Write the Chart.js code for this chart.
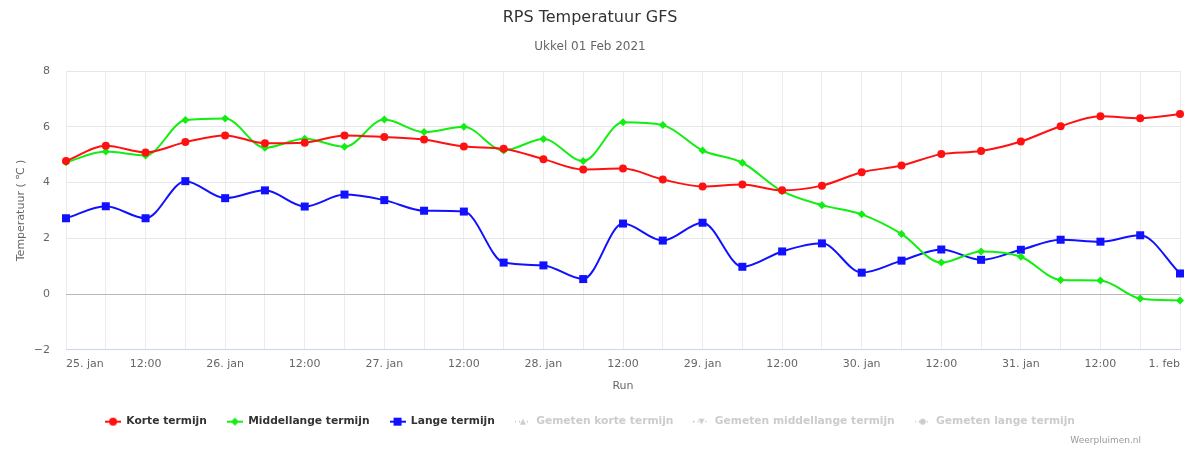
<!DOCTYPE html>
<html>
<head>
<meta charset="utf-8">
<title>RPS Temperatuur GFS</title>
<script src="https://cdn.jsdelivr.net/npm/chart.js@4/dist/chart.umd.min.js"></script>
<style>
    body { margin: 0; background: #ffffff; }
    #wrap { width: 1190px; height: 450px; }
</style>
</head>
<body>
<div id="wrap"><canvas id="rpsChart" width="1190" height="450"></canvas></div>
<script>
// Runs every 6 hours, labels only on the 12h ticks
const tickLabels = ['25. jan', '12:00', '26. jan', '12:00', '27. jan', '12:00', '28. jan', '12:00',
    '29. jan', '12:00', '30. jan', '12:00', '31. jan', '12:00', '1. feb'];

const korteTermijn = [4.77, 5.32, 5.08, 5.45, 5.69, 5.41, 5.43, 5.69, 5.63, 5.54, 5.29, 5.21, 4.84, 4.47,
    4.50, 4.11, 3.86, 3.93, 3.72, 3.89, 4.37, 4.61, 5.02, 5.13, 5.47, 6.02, 6.38, 6.31, 6.46];
const middellangeTermijn = [4.73, 5.11, 4.97, 6.24, 6.30, 5.25, 5.57, 5.28, 6.26, 5.81, 6.00, 5.15, 5.56, 4.77,
    6.16, 6.06, 5.15, 4.71, 3.69, 3.19, 2.86, 2.16, 1.13, 1.53, 1.34, 0.51, 0.49, -0.16, -0.23];
const langeTermijn = [2.72, 3.15, 2.72, 4.05, 3.44, 3.72, 3.14, 3.57, 3.37, 2.99, 2.96, 1.13, 1.03, 0.54,
    2.53, 1.92, 2.56, 0.98, 1.53, 1.82, 0.77, 1.20, 1.60, 1.23, 1.59, 1.95, 1.88, 2.11, 0.74];

// measured series are switched off in the original, no values shown
const gemetenKorte = [];
const gemetenMiddellange = [];
const gemetenLange = [];

const yTicks = [-2, 0, 2, 4, 6, 8];

// 29 categories: tick label, blank 6h slot, tick label, ...
const categories = tickLabels.flatMap((t, i) => i < tickLabels.length - 1 ? [t, ''] : [t]);

const RED = '#ff1111';
const GREEN = '#11ee11';
const BLUE = '#1111ff';
const GREY = '#cccccc';

// little line + marker picture for the legend, like highcharts does
function legendIcon(color, marker, dotted) {
    const c = document.createElement('canvas');
    c.width = 16;
    c.height = 10;
    const g = c.getContext('2d');
    g.strokeStyle = color;
    g.fillStyle = color;
    g.lineWidth = 2;
    if (dotted) g.setLineDash([1, 3]);
    g.beginPath();
    g.moveTo(0, 5);
    g.lineTo(16, 5);
    g.stroke();
    g.setLineDash([]);
    g.beginPath();
    if (marker === 'circle') {
        g.arc(8, 5, dotted ? 3 : 4, 0, Math.PI * 2);
    } else if (marker === 'square') {
        g.rect(4, 1, 8, 8);
    } else if (marker === 'diamond') {
        g.moveTo(8, 1); g.lineTo(12, 5); g.lineTo(8, 9); g.lineTo(4, 5); g.closePath();
    } else if (marker === 'triangle') {
        g.moveTo(8, 2); g.lineTo(11, 8); g.lineTo(5, 8); g.closePath();
    } else if (marker === 'triangle-down') {
        g.moveTo(5, 2); g.lineTo(11, 2); g.lineTo(8, 8); g.closePath();
    }
    g.fill();
    return c;
}

const icons = [
    legendIcon(RED, 'circle', false),
    legendIcon(GREEN, 'diamond', false),
    legendIcon(BLUE, 'square', false),
    legendIcon(GREY, 'triangle', true),
    legendIcon(GREY, 'triangle-down', true),
    legendIcon(GREY, 'circle', true)
];

function series(label, data, color, pointStyle, radius) {
    return {
        label: label,
        data: data,
        borderColor: color,
        backgroundColor: color,
        borderWidth: 2,
        pointStyle: pointStyle,
        pointRadius: radius,
        pointHoverRadius: radius,
        pointBorderWidth: 0,
        cubicInterpolationMode: 'monotone',
        fill: false,
        clip: false
    };
}

const creditPlugin = {
    id: 'credit',
    afterDraw(chart) {
        const ctx = chart.ctx;
        ctx.save();
        ctx.font = '9px "DejaVu Sans"';
        ctx.fillStyle = '#999999';
        ctx.textAlign = 'right';
        ctx.textBaseline = 'middle';
        ctx.fillText('Weerpluimen.nl', 1141, 441);
        ctx.restore();
    }
};

Chart.defaults.font.family = '"DejaVu Sans", Verdana, sans-serif';
Chart.defaults.color = '#666666';

const ctx = document.getElementById('rpsChart').getContext('2d');
new Chart(ctx, {
    type: 'line',
    data: {
        labels: categories,
        datasets: [
            series('Korte termijn', korteTermijn, RED, 'circle', 4),
            series('Middellange termijn', middellangeTermijn, GREEN, 'rectRot', 4),
            series('Lange termijn', langeTermijn, BLUE, 'rect', 5.66),
            series('Gemeten korte termijn', gemetenKorte, GREY, 'triangle', 3),
            series('Gemeten middellange termijn', gemetenMiddellange, GREY, 'triangle', 3),
            series('Gemeten lange termijn', gemetenLange, GREY, 'circle', 3)
        ]
    },
    options: {
        responsive: false,
        animation: false,
        layout: {
            padding: { left: 0, right: 10, top: 0, bottom: 13 }
        },
        plugins: {
            title: {
                display: true,
                text: 'RPS Temperatuur GFS',
                color: '#333333',
                font: { size: 16, weight: 'normal' },
                padding: { top: 8, bottom: 0 }
            },
            subtitle: {
                display: true,
                text: 'Ukkel 01 Feb 2021',
                color: '#666666',
                font: { size: 12 },
                padding: { top: 12.6, bottom: 16.8 }
            },
            legend: {
                position: 'bottom',
                labels: {
                    usePointStyle: true,
                    pointStyleWidth: 16,
                    padding: 20,
                    color: '#333333',
                    font: { size: 10.7, weight: 'bold' },
                    generateLabels(chart) {
                        return chart.data.datasets.map((ds, i) => ({
                            text: ds.label,
                            fontColor: i >= 3 ? GREY : '#333333',
                            pointStyle: icons[i],
                            hidden: false,
                            datasetIndex: i,
                            lineWidth: 0,
                            strokeStyle: 'transparent',
                            fillStyle: 'transparent'
                        }));
                    }
                }
            },
            tooltip: { enabled: false }
        },
        scales: {
            x: {
                offset: false,
                grid: {
                    color: '#ececec',
                    drawTicks: false,
                    offset: false
                },
                border: { color: '#ccd6eb', width: 1 },
                ticks: {
                    autoSkip: false,
                    maxRotation: 0,
                    align: 'inner',
                    padding: 8,
                    color: '#666666',
                    font: { size: 11 }
                },
                title: {
                    display: true,
                    text: 'Run',
                    color: '#666666',
                    font: { size: 11 },
                    padding: { top: 0, bottom: 4 }
                }
            },
            y: {
                min: -2,
                max: 8,
                afterBuildTicks(scale) {
                    scale.ticks = yTicks.map(v => ({ value: v }));
                },
                afterFit(scale) {
                    scale.width = 66;
                },
                grid: {
                    color: c => (c.tick && c.tick.value === 0) ? '#b8b8b8' : '#e6e6e6',
                    drawTicks: false
                },
                border: { display: false },
                ticks: {
                    padding: 16,
                    color: '#666666',
                    font: { size: 11 },
                    callback: v => String(v).replace('-', '\u2212')
                },
                title: {
                    display: true,
                    text: 'Temperatuur ( \u2103 )',
                    color: '#666666',
                    font: { size: 11 },
                    padding: { top: 15, bottom: 0 }
                }
            }
        }
    },
    plugins: [creditPlugin]
});
</script>
</body>
</html>
